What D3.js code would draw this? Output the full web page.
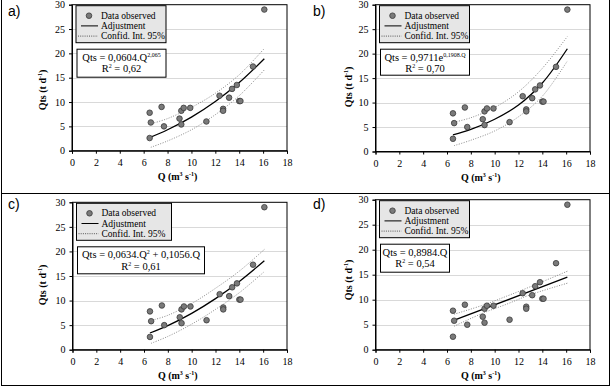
<!DOCTYPE html>
<html>
<head>
<meta charset="utf-8">
<script src="https://cdn.jsdelivr.net/npm/d3@7"></script>
<style>
  body { margin: 0; background: #fff; }
  svg { display: block; }
  svg text { font-family: "Liberation Serif", "Times New Roman", serif; }
  svg text.letter { font-family: "Liberation Sans", Arial, sans-serif; }
</style>
</head>
<body>
<div id="chart"></div>
<script>
// observed points (same in all four panels)
const flowQ = [6.5, 6.6, 6.5, 7.5, 7.7, 9.0, 9.15, 9.35, 9.15, 9.9, 11.25, 12.35, 12.65, 12.65, 13.15, 13.4, 13.8, 14.0, 14.1, 15.15, 16.1]
const sedQts = [7.8, 5.8, 2.6, 9.0, 5.0, 6.6, 8.2, 8.8, 5.4, 8.8, 6.0, 11.3, 8.6, 8.2, 10.9, 12.7, 13.5, 10.2, 10.2, 17.3, 29.0]

// fitted curves and 95% bands, [Q, Qts]
const adjA = [[6.5, 2.7], [8, 4.3], [10, 6.9], [12, 10.1], [14, 14.0], [16.1, 18.9]]
const upA = [[6.7, 5.6], [8, 6.6], [10, 8.9], [12, 11.8], [14, 15.6], [16.1, 21.0]]
const loA = [[6.6, 0.7], [8, 2.0], [10, 4.3], [12, 7.4], [14, 11.3], [16.1, 16.6]]

const adjB = [[6.5, 3.4], [8, 4.5], [10, 6.6], [12, 9.5], [14, 14.0], [16.1, 21.0]]
const upB = [[6.6, 6.0], [8, 6.9], [10, 9.0], [12, 12.2], [14, 17.0], [16.1, 23.5]]
const loB = [[6.6, 1.2], [8, 2.3], [10, 4.2], [12, 7.1], [14, 11.3], [16.1, 18.5]]

const adjC = [[6.5, 3.4], [8, 4.9], [10, 7.4], [12, 10.4], [14, 13.9], [16.1, 18.1]]
const upC = [[6.7, 6.0], [8, 7.0], [10, 9.4], [12, 12.5], [14, 16.0], [16.1, 20.4]]
const loC = [[6.6, 1.3], [8, 2.7], [10, 5.2], [12, 8.2], [14, 11.6], [16.1, 15.9]]

const adjD = [[6.5, 5.8], [16.1, 14.5]]
const upD = [[6.6, 7.1], [9, 8.9], [11, 10.7], [13, 12.6], [16.1, 15.7]]
const loD = [[6.6, 4.7], [9, 7.3], [11, 9.1], [13, 11.0], [16.1, 13.3]]

const xTicks = [0, 2, 4, 6, 8, 10, 12, 14, 16, 18]
const yTicks = [0, 5, 10, 15, 20, 25, 30]
const legendLabels = ["Data observed", "Adjustment", "Confid. Int. 95%"]
const panelLetters = ["a)", "b)", "c)", "d)"]
const r2Labels = ["0,62", "0,70", "0,61", "0,54"]

const width = 612
const height = 386

const svg = d3.select('#chart')
  .append('svg')
  .attr('width', width)
  .attr('height', height)

// table borders
svg.append('g')
  .attr('stroke', '#000')
  .attr('stroke-width', 1)
  .selectAll('line')
  .data([[1.5, 0, 1.5, 386], [609.5, 0, 609.5, 386], [1, 193.5, 610, 193.5], [1, 385.5, 610, 385.5]])
  .join('line')
  .attr('x1', d => d[0]).attr('y1', d => d[1])
  .attr('x2', d => d[2]).attr('y2', d => d[3])

const panels = [
  { letter: panelLetters[0], adj: adjA, up: upA, lo: loA, r2: r2Labels[0], eq: 'pow',
    ox: 0, oy: 0, x0: 72, x1: 287, y0: 4.7, y1: 150.7, eqW: 89, eqH: 28, yLab: 90 },
  { letter: panelLetters[1], adj: adjB, up: upB, lo: loB, r2: r2Labels[1], eq: 'exp',
    ox: 306, oy: 0, x0: 375.5, x1: 590, y0: 4.7, y1: 151.5, eqW: 89, eqH: 26, yLab: 87 },
  { letter: panelLetters[2], adj: adjC, up: upC, lo: loC, r2: r2Labels[2], eq: 'poly',
    ox: 0, oy: 193, x0: 72.5, x1: 287, y0: 202.3, y1: 349.7, eqW: 127, eqH: 27, yLab: 285 },
  { letter: panelLetters[3], adj: adjD, up: upD, lo: loD, r2: r2Labels[3], eq: 'lin',
    ox: 306, oy: 193, x0: 375.5, x1: 590, y0: 199.7, y1: 349.7, eqW: 69, eqH: 28, yLab: 280 }
]

panels.forEach(p => drawPanel(p))

function drawPanel(p) {
  const x = d3.scaleLinear().domain([0, 18]).range([p.x0, p.x1])
  const y = d3.scaleLinear().domain([0, 30]).range([p.y1, p.y0])
  const g = svg.append('g')

  // panel letter
  g.append('text')
    .attr('class', 'letter')
    .attr('x', p.ox + (p.ox ? 7 : 8))
    .attr('y', p.oy + 16)
    .attr('font-size', 14)
    .text(p.letter)

  // grid
  g.append('g')
    .selectAll('line')
    .data(yTicks.filter(t => t > 0 && t < 30))
    .join('line')
    .attr('x1', p.x0).attr('x2', p.x1)
    .attr('y1', d => Math.round(y(d)) + 0.5).attr('y2', d => Math.round(y(d)) + 0.5)
    .attr('stroke', '#d9d9d9')

  // frame
  g.append('rect')
    .attr('x', p.x0).attr('y', p.y0)
    .attr('width', p.x1 - p.x0).attr('height', p.y1 - p.y0)
    .attr('fill', 'none').attr('stroke', '#000')

  const yAxisG = g.append('g')
    .attr('transform', `translate(${p.x0},0)`)
    .call(d3.axisLeft(y).tickValues(yTicks).tickSize(3).tickPadding(4))
  const xAxisG = g.append('g')
    .attr('transform', `translate(0,${p.y1})`)
    .call(d3.axisBottom(x).tickValues(xTicks).tickSize(3).tickPadding(5))
  ;[yAxisG, xAxisG].forEach(a => {
    a.selectAll('text').attr('font-size', 10).attr('fill', '#000')
    a.select('.domain').attr('stroke', '#000')
    a.selectAll('.tick line').attr('stroke', '#000')
  })

  // axis titles
  const xt = g.append('text')
    .attr('x', (p.x0 + p.x1) / 2 - 2)
    .attr('y', p.y1 + 29)
    .attr('text-anchor', 'middle')
    .attr('font-size', 10)
    .attr('font-weight', 'bold')
  xt.append('tspan').text('Q (m')
  xt.append('tspan').attr('font-size', 6).attr('dy', -4).text('3')
  xt.append('tspan').attr('dy', 4).text(' s')
  xt.append('tspan').attr('font-size', 6).attr('dy', -4).text('-1')
  xt.append('tspan').attr('dy', 4).text(')')

  const yt = g.append('text')
    .attr('transform', `translate(${p.ox + 46},${p.yLab}) rotate(-90)`)
    .attr('text-anchor', 'middle')
    .attr('font-size', 10)
    .attr('font-weight', 'bold')
  yt.append('tspan').text('Qts  (t d')
  yt.append('tspan').attr('font-size', 6).attr('dy', -4).text('-1')
  yt.append('tspan').attr('dy', 4).text(')')

  // bands and fit
  const line = d3.line().x(d => x(d[0])).y(d => y(d[1])).curve(d3.curveCatmullRom)
  g.selectAll('.band')
    .data([p.up, p.lo])
    .join('path')
    .attr('class', 'band')
    .attr('d', line)
    .attr('fill', 'none')
    .attr('stroke', '#8c8c8c')
    .attr('stroke-width', 1)
    .attr('stroke-dasharray', '1,1.5')
  g.append('path')
    .attr('d', line(p.adj))
    .attr('fill', 'none')
    .attr('stroke', '#000')
    .attr('stroke-width', 1.3)

  // points
  g.append('g')
    .selectAll('circle')
    .data(flowQ.map((q, i) => [q, sedQts[i]]))
    .join('circle')
    .attr('cx', d => x(d[0]))
    .attr('cy', d => y(d[1]))
    .attr('r', 2.8)
    .attr('fill', '#7a7a7a')
    .attr('stroke', '#3a3a3a')
    .attr('stroke-width', 0.8)

  // legend
  const lx = p.x0 + 4
  const ly = p.y0 + 1
  const lg = g.append('g')
  lg.append('rect')
    .attr('x', lx).attr('y', ly)
    .attr('width', p.eq === 'poly' ? 95 : 90).attr('height', 37)
    .attr('fill', '#e6e6e6').attr('stroke', '#000')
  legendLabels.forEach((lab, i) => {
    const yy = ly + 10 + i * 10.2
    if (i === 0) {
      lg.append('circle').attr('cx', lx + 13).attr('cy', yy).attr('r', 2.8)
        .attr('fill', '#7a7a7a').attr('stroke', '#3a3a3a').attr('stroke-width', 0.8)
    } else {
      lg.append('line')
        .attr('x1', lx + (i === 1 ? 5 : 2)).attr('x2', lx + 22)
        .attr('y1', yy).attr('y2', yy)
        .attr('stroke', i === 1 ? '#000' : '#555')
        .attr('stroke-dasharray', i === 2 ? '1,1.2' : null)
    }
    lg.append('text')
      .attr('x', lx + 25).attr('y', yy + 3)
      .attr('font-size', 9.5)
      .text(lab)
  })

  // equation box
  const ex = p.x0 + 5
  const ey = p.y0 + 44.5
  g.append('rect')
    .attr('x', ex).attr('y', ey)
    .attr('width', p.eqW).attr('height', p.eqH)
    .attr('fill', '#fff').attr('stroke', '#000')
  const e1 = g.append('text')
    .attr('x', ex + p.eqW / 2).attr('y', ey + 11.5)
    .attr('text-anchor', 'middle')
    .attr('font-size', 10.5)
  if (p.eq === 'pow') {
    e1.append('tspan').text('Qts = 0,0604.Q')
    e1.append('tspan').attr('font-size', 6).attr('dy', -4).text('2,065')
  } else if (p.eq === 'exp') {
    e1.append('tspan').text('Qts = 0,9711e')
    e1.append('tspan').attr('font-size', 6).attr('dy', -4).text('0,1908.Q')
  } else if (p.eq === 'poly') {
    e1.append('tspan').text('Qts = 0,0634.Q')
    e1.append('tspan').attr('font-size', 6).attr('dy', -4).text('2')
    e1.append('tspan').attr('dy', 4).text(' + 0,1056.Q')
  } else {
    e1.append('tspan').text('Qts = 0,8984.Q')
  }
  const e2 = g.append('text')
    .attr('x', ex + p.eqW / 2).attr('y', ey + 23)
    .attr('text-anchor', 'middle')
    .attr('font-size', 10.5)
  e2.append('tspan').text('R')
  e2.append('tspan').attr('font-size', 6).attr('dy', -4).text('2')
  e2.append('tspan').attr('dy', 4).text(' = ' + p.r2)
}
</script>
</body>
</html>
